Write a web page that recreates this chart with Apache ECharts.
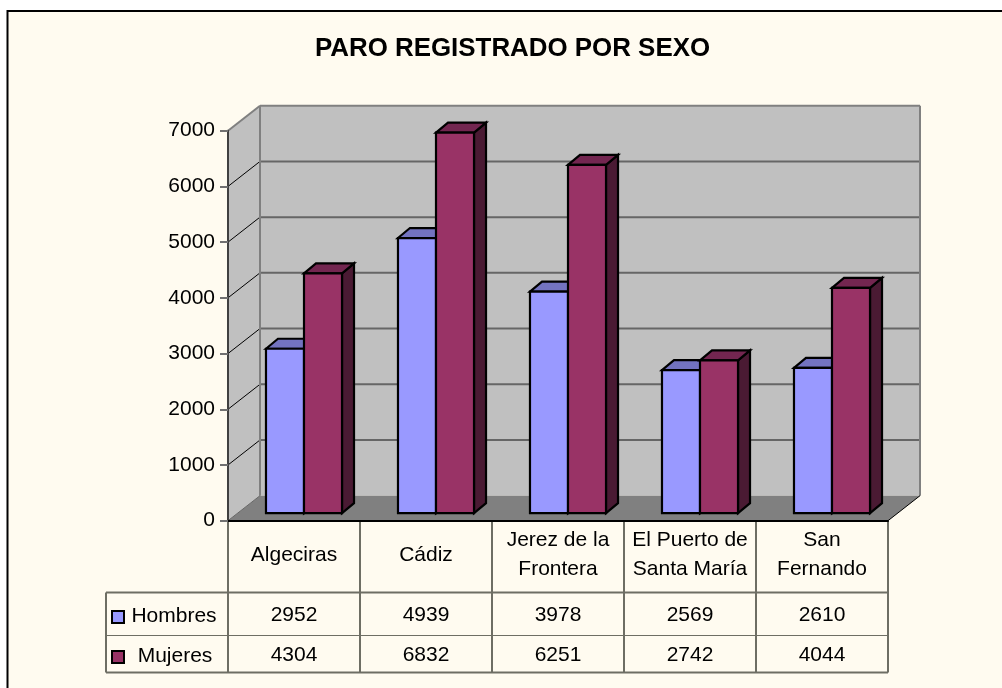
<!DOCTYPE html>
<html lang="en">

<head>
    <meta charset="UTF-8" />
    <title>Paro registrado por sexo</title>
    <script src="https://cdn.jsdelivr.net/npm/echarts@6/dist/echarts.min.js"></script>
    <style>
        html, body { margin: 0; padding: 0; background: #fff; }
    </style>
</head>

<body>
    <div id="main" style="width: 1002px; height: 688px;"></div>

    <script>
        const categories = ["Algeciras", "Cádiz", "Jerez de la\nFrontera", "El Puerto de\nSanta María", "San\nFernando"];
        const hombres = [2952, 4939, 3978, 2569, 2610];
        const mujeres = [4304, 6832, 6251, 2742, 4044];
        const yTicks = [1000, 2000, 3000, 4000, 5000, 6000, 7000];

        const FONT = '"Liberation Sans", Arial, sans-serif';
        const HOMBRES_COLOR = ['#9999FF', '#7373C0', '#4D4D80'];
        const MUJERES_COLOR = ['#993366', '#732650', '#4A1A33'];

        // depth of the fake 3d box
        const DX = 32, DY = -25;
        // table rows below the grid
        const ROW_CAT = 592.5, ROW_H = 635.5, ROW_M = 672.5, LEGEND_X = 106;
        const TABLE_LINE = '#6E6E64';

        function poly(points, fill, stroke, width) {
            return { type: 'polygon', shape: { points }, style: { fill, stroke: stroke || 'none', lineWidth: width || 0 } };
        }
        function seg(x1, y1, x2, y2, stroke, width) {
            return { type: 'line', shape: { x1, y1, x2, y2 }, style: { stroke, lineWidth: width } };
        }
        function label(text, x, y) {
            return { type: 'text', style: { text, x, y, align: 'center', verticalAlign: 'middle', fill: '#000', font: '21px ' + FONT } };
        }

        // walls, floor and the gridlines on the back wall
        function renderBox(params, api) {
            const r = params.coordSys;
            const x0 = r.x, x1 = r.x + r.width, top = r.y, bot = r.y + r.height;
            const kids = [
                poly([[x0, top], [x0 + DX, top + DY], [x0 + DX, bot + DY], [x0, bot]], '#C0C0C0'),
                poly([[x0 + DX, top + DY], [x1 + DX, top + DY], [x1 + DX, bot + DY], [x0 + DX, bot + DY]], '#C0C0C0'),
                poly([[x0, bot], [x0 + DX, bot + DY], [x1 + DX, bot + DY], [x1, bot]], '#808080')
            ];
            yTicks.forEach(v => {
                const y = api.coord([0, v])[1];
                if (v < 7000) {
                    kids.push(seg(x0 + DX, y + DY, x1 + DX, y + DY, '#666666', 2));
                    kids.push(seg(x0, y, x0 + DX, y + DY, '#000', 1));
                }
            });
            kids.push(seg(x0, top, x0 + DX, top + DY, '#808080', 2));
            kids.push(seg(x0 + DX, top + DY, x1 + DX, top + DY, '#808080', 2));
            kids.push(seg(x1 + DX, top + DY, x1 + DX, bot + DY, '#808080', 2));
            kids.push(seg(x0 + DX, top + DY, x0 + DX, bot + DY, '#808080', 2));
            kids.push(seg(x0, bot, x0 + DX, bot + DY, '#666666', 1));
            kids.push(seg(x1, bot, x1 + DX, bot + DY, '#000', 1));
            return { type: 'group', children: kids };
        }

        // one bar, shifted into the box; side is -1 for hombres and 0 for mujeres
        function barRenderer(side, colors) {
            return function (params, api) {
                const idx = api.value(0);
                const top = api.coord([idx, api.value(1)]);
                const base = api.coord([idx, 0]);
                const w = api.size([1, 0])[0] * 0.288;
                const x0 = top[0] + 10 + side * w, x1 = x0 + w;
                const y0 = top[1] - 7.5, y1 = base[1] - 7.5;
                const bx = 12, by = -10;
                const stroke = '#000';
                return {
                    type: 'group',
                    children: [
                        poly([[x1, y0], [x1 + bx, y0 + by], [x1 + bx, y1 + by], [x1, y1]], colors[2], stroke, 2.2),
                        poly([[x0, y0], [x0 + bx, y0 + by], [x1 + bx, y0 + by], [x1, y0]], colors[1], stroke, 2.2),
                        poly([[x0, y0], [x1, y0], [x1, y1], [x0, y1]], colors[0], stroke, 2.2)
                    ]
                };
            };
        }

        // data table under the chart: value cells per category, legend column with the first one
        function renderTable(params, api) {
            const idx = api.value(0);
            const r = params.coordSys;
            const cw = r.width / categories.length;
            const left = r.x + idx * cw, right = left + cw, cx = left + cw / 2, bot = r.y + r.height;
            const kids = [
                seg(right, bot, right, ROW_M, TABLE_LINE, 2),
                seg(left, ROW_CAT, right, ROW_CAT, TABLE_LINE, 2),
                seg(left, ROW_H, right, ROW_H, TABLE_LINE, 1),
                seg(left, ROW_M, right, ROW_M, TABLE_LINE, 2),
                label(String(api.value(1)), cx, 615),
                label(String(api.value(2)), cx, 655)
            ];
            if (idx === 0) {
                kids.push(seg(left, bot, left, ROW_M, TABLE_LINE, 2));
                kids.push(seg(LEGEND_X, ROW_CAT, left, ROW_CAT, TABLE_LINE, 2));
                kids.push(seg(LEGEND_X, ROW_H, left, ROW_H, TABLE_LINE, 1));
                kids.push(seg(LEGEND_X, ROW_M, left, ROW_M, TABLE_LINE, 2));
                kids.push(seg(LEGEND_X, ROW_CAT, LEGEND_X, ROW_M, TABLE_LINE, 2));
                kids.push({ type: 'rect', shape: { x: 112, y: 611, width: 12, height: 12 }, style: { fill: HOMBRES_COLOR[0], stroke: '#000', lineWidth: 2 } });
                kids.push({ type: 'rect', shape: { x: 112, y: 651, width: 12, height: 12 }, style: { fill: MUJERES_COLOR[0], stroke: '#000', lineWidth: 2 } });
                kids.push(label('Hombres', 174, 616));
                kids.push(label('Mujeres', 175, 656));
            }
            return { type: 'group', children: kids };
        }

        const myChart = echarts.init(document.getElementById("main"));

        const options = {
            animation: false,
            backgroundColor: '#fff',
            title: {
                text: 'PARO REGISTRADO POR SEXO',
                left: 507.5, top: 31, textAlign: 'center',
                textStyle: { fontFamily: FONT, fontWeight: 'bold', fontSize: 25.9, color: '#000' }
            },
            // only top and left edges of the frame are inside the picture
            graphic: [{
                type: 'rect', z: -10,
                shape: { x: 7.5, y: 11, width: 1010, height: 690 },
                style: { fill: '#FFFBF0', stroke: '#000', lineWidth: 2 }
            }],
            grid: { left: 228, right: 114, top: 130.7, bottom: 167.3 },
            xAxis: {
                type: 'category',
                data: categories,
                z: 5,
                axisLine: { lineStyle: { color: '#000', width: 2 } },
                axisTick: { show: false },
                axisLabel: {
                    margin: 34.5, verticalAlign: 'middle', lineHeight: 29, interval: 0,
                    color: '#000', fontFamily: FONT, fontSize: 21
                }
            },
            yAxis: {
                type: 'value',
                min: 0, max: 7000, interval: 1000,
                z: 5,
                axisLine: { show: true, lineStyle: { color: '#404040', width: 2 } },
                axisTick: { show: true, length: 8, lineStyle: { color: '#707070', width: 2 } },
                splitLine: { show: false },
                axisLabel: {
                    margin: 13, color: '#000', fontFamily: FONT, fontSize: 21,
                    formatter: v => String(v)
                }
            },
            series: [
                { type: 'custom', name: 'box', z: 1, silent: true, clip: false, renderItem: renderBox, data: [[0, 0]] },
                { type: 'custom', name: 'Hombres', z: 3, clip: false, renderItem: barRenderer(-1, HOMBRES_COLOR), encode: { x: 0, y: 1 }, data: hombres.map((v, i) => [i, v]) },
                { type: 'custom', name: 'Mujeres', z: 3, clip: false, renderItem: barRenderer(0, MUJERES_COLOR), encode: { x: 0, y: 1 }, data: mujeres.map((v, i) => [i, v]) },
                { type: 'custom', name: 'table', z: 4, silent: true, clip: false, renderItem: renderTable, data: hombres.map((v, i) => [i, v, mujeres[i]]) }
            ]
        };

        myChart.setOption(options);
    </script>
</body>

</html>
